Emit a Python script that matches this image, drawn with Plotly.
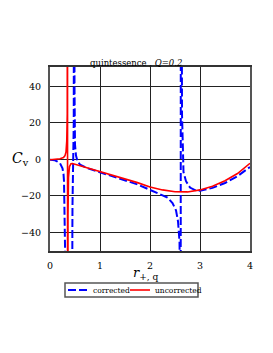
import plotly.graph_objects as go

# ---- data ----
r_uncorrected = [0.0, 0.1, 0.2, 0.27, 0.3, 0.32, 0.335, 0.345, 0.35, 0.352, 0.36, 0.37, 0.39, 0.42,
                 0.45, 0.5, 0.75, 1.0, 1.25, 1.5, 1.75, 2.0, 2.25, 2.5, 2.65, 2.75, 3.0, 3.25,
                 3.5, 3.75, 4.0]
c_uncorrected = [-0.3, -0.1, 0.3, 1.0, 2.0, 4.0, 10.0, 25.0, 300.0, -300.0, -30.0, -10.0, -4.0, -2.4,
                 -2.3, -2.7, -4.5, -6.7, -8.7, -10.8, -12.8, -15.2, -16.8, -17.8, -18.0, -17.9, -16.8, -14.8,
                 -11.8, -7.8, -2.2]

r_corrected = [0.0, 0.1, 0.15, 0.2, 0.25, 0.27, 0.28, 0.29, 0.3, 0.445, 0.447, 0.45, 0.475, 0.48,
               0.485, 0.49, 0.5, 0.52, 0.55, 0.6, 0.75, 1.0, 1.25, 1.5, 1.75, 2.0, 2.2, 2.35, 2.45,
               2.52, 2.56, 2.59, 2.605, 2.612, 2.618, 2.625, 2.64, 2.67, 2.72, 2.8, 2.9, 3.0, 3.25,
               3.5, 3.75, 4.0]
c_corrected = [-0.2, -0.6, -1.3, -2.2, -5.0, -8.0, -12.0, -25.0, -300.0, -300.0, -40.0, -25.0, 20.0, 300.0,
               300.0, 40.0, 8.0, 2.0, -1.0, -2.9, -4.9, -7.1, -9.2, -11.4, -13.8, -16.8, -19.0, -21.0, -24.0,
               -28.0, -34.0, -45.0, -80.0, -300.0, 300.0, 80.0, 25.0, -7.0, -12.0, -15.5, -16.9, -17.3, -15.7,
               -13.0, -9.3, -4.2]

x_ticks = [0, 1, 2, 3, 4]
y_ticks = [-40, -20, 0, 20, 40]

serif = "DejaVu Serif"

fig = go.Figure()
fig.add_trace(go.Scatter(x=r_corrected, y=c_corrected, mode="lines", name="corrected",
                         line=dict(color="#0000ff", width=2, dash="8px,3px")))
fig.add_trace(go.Scatter(x=r_uncorrected, y=c_uncorrected, mode="lines", name="uncorrected",
                         line=dict(color="#ff0000", width=1.6)))

fig.update_layout(
    width=273, height=353,
    margin=dict(l=50, r=23, t=67, b=102),
    paper_bgcolor="white", plot_bgcolor="white",
    showlegend=False,
    font=dict(family=serif, size=9.5, color="black"),
    xaxis=dict(range=[0, 4], tickvals=x_ticks, ticks="", showgrid=True, gridcolor="#222",
               gridwidth=1, zeroline=False, showline=True, linecolor="#333", linewidth=1.5,
               mirror=True, tickfont=dict(family=serif, size=9.5), ticklabelstandoff=5),
    yaxis=dict(range=[-50.3, 50.6], tickvals=y_ticks, ticks="", showgrid=True, gridcolor="#222",
               gridwidth=1, zeroline=False, showline=True, linecolor="#555", linewidth=2,
               mirror=True, tickfont=dict(family=serif, size=9.5), ticklabelstandoff=5),
)

annotations = [
    dict(text="quintessence , <i>Q=0.2</i>", xref="paper", yref="paper", x=0.43, y=1.0,
         xanchor="center", yanchor="bottom", showarrow=False, yshift=-3,
         font=dict(family=serif, size=8.5)),
    dict(text="<i>C</i><sub>v</sub>", xref="paper", yref="y", x=-0.15, y=0,
         xanchor="center", yanchor="middle", showarrow=False,
         font=dict(family=serif, size=14)),
    dict(text="<i>r</i><sub>+, q</sub>", xref="paper", yref="paper", x=0.48, y=-0.12,
         xanchor="center", yanchor="middle", showarrow=False,
         font=dict(family=serif, size=13)),
    dict(text="corrected", xref="paper", yref="paper", x=(91 - 50) / 200, y=(251 - 290) / 184,
         xanchor="left", yanchor="middle", showarrow=False, font=dict(family=serif, size=7.5)),
    dict(text="uncorrected", xref="paper", yref="paper", x=(153 - 50) / 200, y=(251 - 290) / 184,
         xanchor="left", yanchor="middle", showarrow=False, font=dict(family=serif, size=7.5)),
]
fig.update_layout(annotations=annotations)

def px_x(p):
    return (p - 50) / 200

def px_y(p):
    return (251 - p) / 184

shapes = [
    dict(type="rect", xref="paper", yref="paper", x0=px_x(65), x1=px_x(198), y0=px_y(297), y1=px_y(283),
         line=dict(color="#555", width=1.5), fillcolor="rgba(0,0,0,0)"),
    dict(type="line", xref="paper", yref="paper", x0=px_x(68), x1=px_x(89), y0=px_y(290), y1=px_y(290),
         line=dict(color="#0000ff", width=2, dash="8px,3px")),
    dict(type="line", xref="paper", yref="paper", x0=px_x(130), x1=px_x(150), y0=px_y(290), y1=px_y(290),
         line=dict(color="#ff0000", width=1.6)),
]
fig.update_layout(shapes=shapes)

fig.write_html("out.html", config={"displayModeBar": False},
               post_script="document.body.style.margin='0';")
